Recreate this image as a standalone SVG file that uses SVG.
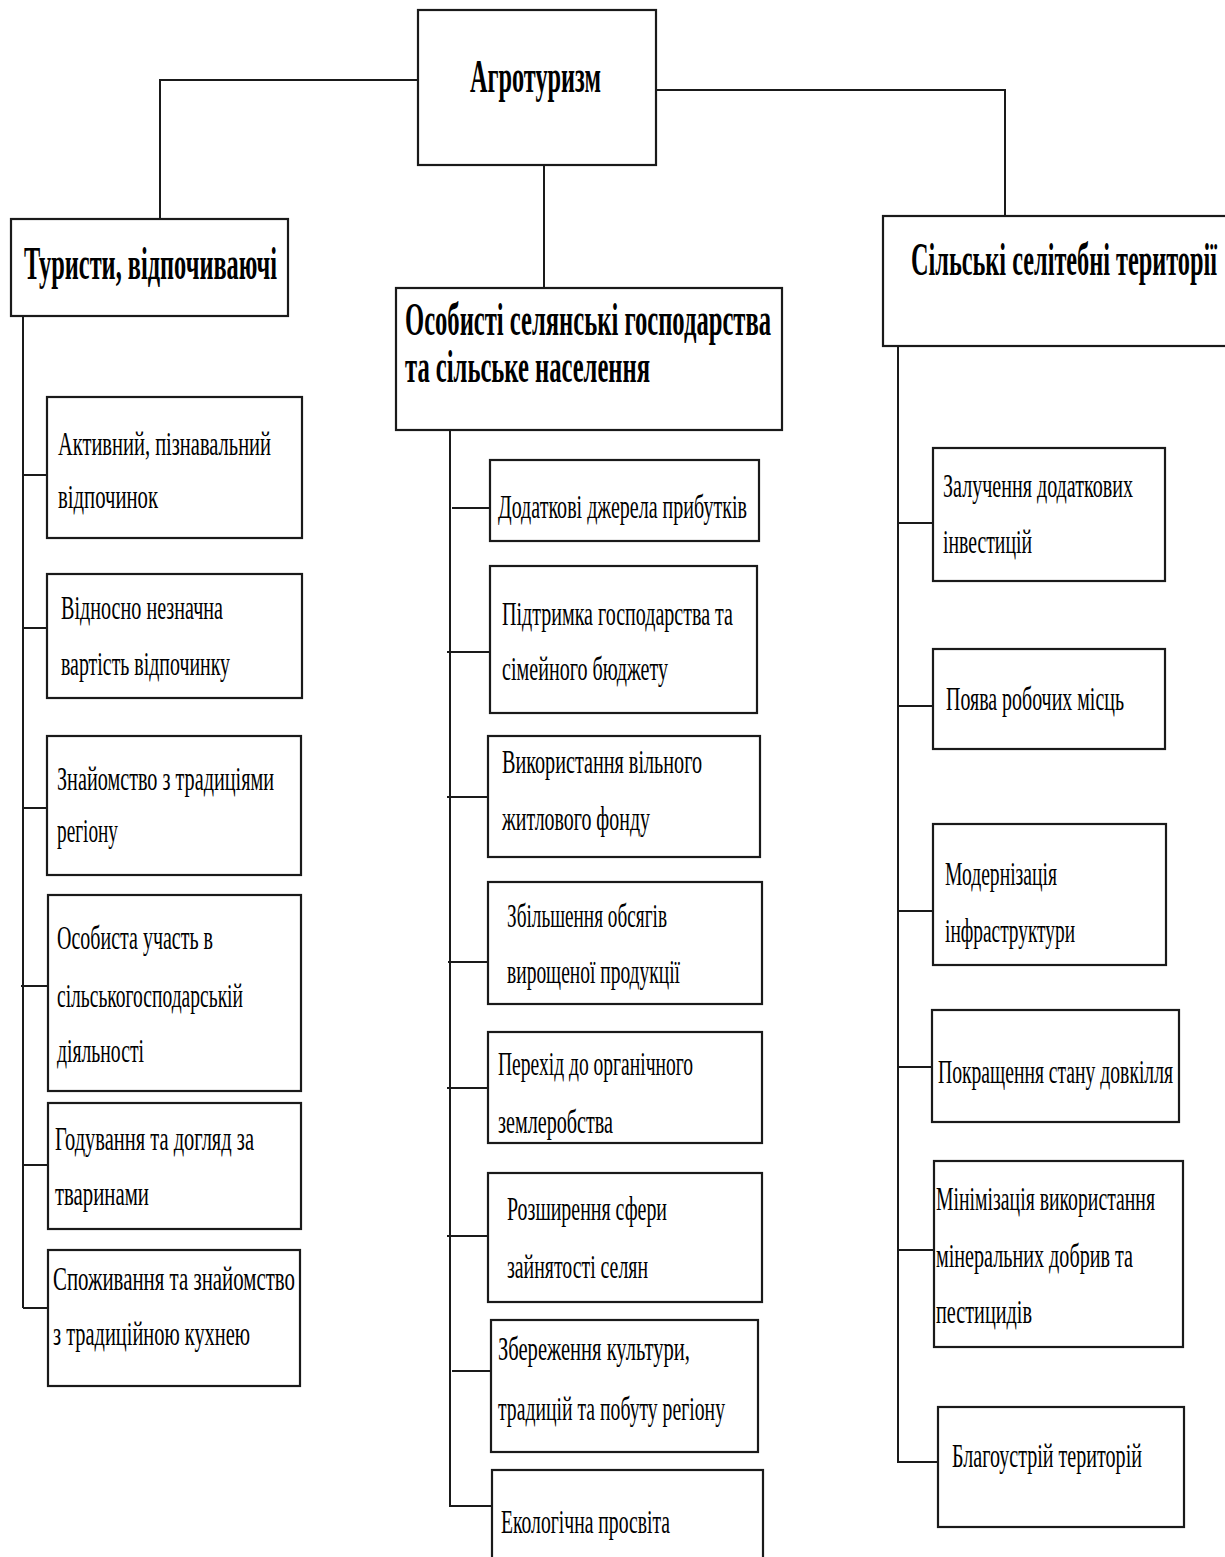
<svg xmlns="http://www.w3.org/2000/svg" width="1225" height="1557" viewBox="0 0 1225 1557">
<style>
.box{fill:#fff;stroke:#1a1a1a;stroke-width:2.2}
.ln{fill:none;stroke:#1a1a1a;stroke-width:2}
.t{font-family:"Liberation Serif","Times New Roman",serif;font-size:33px;fill:#000}
.h{font-family:"Liberation Serif","Times New Roman",serif;font-size:46px;font-weight:bold;fill:#000}
</style>
<rect width="1225" height="1557" fill="#fff"/>
<g id="connectors">
<path class="ln" d="M418 80 H160 V233"/>
<path class="ln" d="M656 90 H1005 V216"/>
<path class="ln" d="M544 165 V288"/>
<path class="ln" d="M23 316 V1308"/>
<path class="ln" d="M23 475 H47 M23 628 H47 M23 808 H47 M21 986 H48 M23 1165 H48 M23 1308 H48"/>
<path class="ln" d="M450 430 V1506 H492"/>
<path class="ln" d="M452 508 H490 M447 652 H490 M447 797 H488 M448 962 H488 M447 1088 H488 M447 1236 H488 M452 1371 H491"/>
<path class="ln" d="M898 346 V1462 H938"/>
<path class="ln" d="M897 523 H933 M898 706 H933 M898 911 H933 M898 1067 H932 M898 1250 H934"/>
</g>
<g id="agro"><rect class="box" x="418" y="10" width="238" height="155"/><text class="h" x="470" y="92" textLength="131" lengthAdjust="spacingAndGlyphs">Агротуризм</text></g>
<g id="tourists"><rect class="box" x="11" y="219" width="277" height="97"/><text class="h" x="24" y="279" textLength="253" lengthAdjust="spacingAndGlyphs">Туристи, відпочиваючі</text></g>
<g id="households"><rect class="box" x="396" y="288" width="386" height="142"/><text class="h" x="405" y="335" textLength="366" lengthAdjust="spacingAndGlyphs">Особисті селянські господарства</text><text class="h" x="405" y="382" textLength="245" lengthAdjust="spacingAndGlyphs">та сільське населення</text></g>
<g id="rural"><rect class="box" x="883" y="216" width="345" height="130"/><text class="h" x="911" y="275" textLength="306" lengthAdjust="spacingAndGlyphs">Сільські селітебні території</text></g>

<g id="l1"><rect class="box" x="47" y="397" width="255" height="141"/><text class="t" x="58" y="455" textLength="213" lengthAdjust="spacingAndGlyphs">Активний, пізнавальний</text><text class="t" x="58" y="508" textLength="100" lengthAdjust="spacingAndGlyphs">відпочинок</text></g>
<g id="l2"><rect class="box" x="47" y="574" width="255" height="124"/><text class="t" x="61" y="619" textLength="162" lengthAdjust="spacingAndGlyphs">Відносно незначна</text><text class="t" x="61" y="675" textLength="169" lengthAdjust="spacingAndGlyphs">вартість відпочинку</text></g>
<g id="l3"><rect class="box" x="47" y="736" width="254" height="139"/><text class="t" x="57" y="790" textLength="217" lengthAdjust="spacingAndGlyphs">Знайомство з традиціями</text><text class="t" x="57" y="842" textLength="61" lengthAdjust="spacingAndGlyphs">регіону</text></g>
<g id="l4"><rect class="box" x="48" y="895" width="253" height="196"/><text class="t" x="57" y="949" textLength="156" lengthAdjust="spacingAndGlyphs">Особиста участь в</text><text class="t" x="57" y="1007" textLength="186" lengthAdjust="spacingAndGlyphs">сільськогосподарській</text><text class="t" x="57" y="1062" textLength="87" lengthAdjust="spacingAndGlyphs">діяльності</text></g>
<g id="l5"><rect class="box" x="48" y="1103" width="253" height="126"/><text class="t" x="55" y="1150" textLength="199" lengthAdjust="spacingAndGlyphs">Годування та догляд за</text><text class="t" x="55" y="1205" textLength="94" lengthAdjust="spacingAndGlyphs">тваринами</text></g>
<g id="l6"><rect class="box" x="48" y="1250" width="252" height="136"/><text class="t" x="53" y="1290" textLength="242" lengthAdjust="spacingAndGlyphs">Споживання та знайомство</text><text class="t" x="53" y="1345" textLength="197" lengthAdjust="spacingAndGlyphs">з традиційною кухнею</text></g>

<g id="m1"><rect class="box" x="490" y="460" width="269" height="81"/><text class="t" x="498" y="518" textLength="249" lengthAdjust="spacingAndGlyphs">Додаткові джерела прибутків</text></g>
<g id="m2"><rect class="box" x="490" y="566" width="267" height="147"/><text class="t" x="502" y="625" textLength="231" lengthAdjust="spacingAndGlyphs">Підтримка господарства та</text><text class="t" x="502" y="680" textLength="166" lengthAdjust="spacingAndGlyphs">сімейного бюджету</text></g>
<g id="m3"><rect class="box" x="488" y="736" width="272" height="121"/><text class="t" x="502" y="773" textLength="200" lengthAdjust="spacingAndGlyphs">Використання вільного</text><text class="t" x="502" y="830" textLength="148" lengthAdjust="spacingAndGlyphs">житлового фонду</text></g>
<g id="m4"><rect class="box" x="488" y="882" width="274" height="122"/><text class="t" x="507" y="927" textLength="160" lengthAdjust="spacingAndGlyphs">Збільшення обсягів</text><text class="t" x="507" y="983" textLength="173" lengthAdjust="spacingAndGlyphs">вирощеної продукції</text></g>
<g id="m5"><rect class="box" x="488" y="1032" width="274" height="111"/><text class="t" x="498" y="1075" textLength="195" lengthAdjust="spacingAndGlyphs">Перехід до органічного</text><text class="t" x="498" y="1133" textLength="115" lengthAdjust="spacingAndGlyphs">землеробства</text></g>
<g id="m6"><rect class="box" x="488" y="1173" width="274" height="129"/><text class="t" x="507" y="1220" textLength="160" lengthAdjust="spacingAndGlyphs">Розширення сфери</text><text class="t" x="507" y="1278" textLength="141" lengthAdjust="spacingAndGlyphs">зайнятості селян</text></g>
<g id="m7"><rect class="box" x="491" y="1320" width="267" height="132"/><text class="t" x="498" y="1360" textLength="192" lengthAdjust="spacingAndGlyphs">Збереження культури,</text><text class="t" x="498" y="1420" textLength="227" lengthAdjust="spacingAndGlyphs">традицій та побуту регіону</text></g>
<g id="m8"><rect class="box" x="492" y="1470" width="271" height="100"/><text class="t" x="501" y="1533" textLength="169" lengthAdjust="spacingAndGlyphs">Екологічна просвіта</text></g>

<g id="r1"><rect class="box" x="933" y="448" width="232" height="133"/><text class="t" x="943" y="497" textLength="190" lengthAdjust="spacingAndGlyphs">Залучення додаткових</text><text class="t" x="943" y="553" textLength="89" lengthAdjust="spacingAndGlyphs">інвестицій</text></g>
<g id="r2"><rect class="box" x="933" y="649" width="232" height="100"/><text class="t" x="946" y="710" textLength="178" lengthAdjust="spacingAndGlyphs">Поява робочих місць</text></g>
<g id="r3"><rect class="box" x="933" y="824" width="233" height="141"/><text class="t" x="945" y="885" textLength="112" lengthAdjust="spacingAndGlyphs">Модернізація</text><text class="t" x="945" y="942" textLength="130" lengthAdjust="spacingAndGlyphs">інфраструктури</text></g>
<g id="r4"><rect class="box" x="932" y="1010" width="247" height="112"/><text class="t" x="938" y="1083" textLength="235" lengthAdjust="spacingAndGlyphs">Покращення стану довкілля</text></g>
<g id="r5"><rect class="box" x="934" y="1161" width="249" height="186"/><text class="t" x="936" y="1210" textLength="219" lengthAdjust="spacingAndGlyphs">Мінімізація використання</text><text class="t" x="936" y="1267" textLength="197" lengthAdjust="spacingAndGlyphs">мінеральних добрив та</text><text class="t" x="936" y="1323" textLength="96" lengthAdjust="spacingAndGlyphs">пестицидів</text></g>
<g id="r6"><rect class="box" x="938" y="1407" width="246" height="120"/><text class="t" x="952" y="1467" textLength="190" lengthAdjust="spacingAndGlyphs">Благоустрій територій</text></g>
</svg>
